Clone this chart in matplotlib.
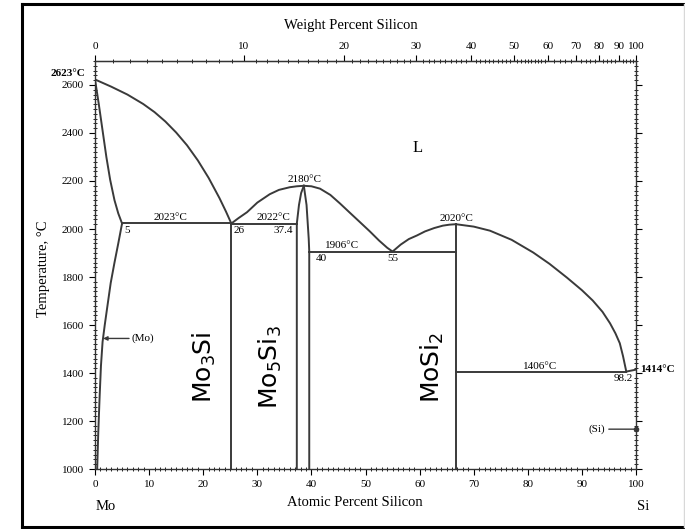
import numpy as np
import matplotlib.pyplot as plt
from matplotlib.lines import Line2D

# atomic weights for the wt% <-> at% top scale
M_MO = 95.95
M_SI = 28.0855

# phase boundaries (atomic % Si, temperature in C)
mo_liq_x = [0, 3, 6, 8.9, 11, 13, 15, 17, 19, 21, 23, 24.2, 25.2]
mo_liq_t = [2623, 2593, 2560, 2521, 2487, 2448, 2402, 2349, 2286, 2213, 2129, 2073, 2023]

mo_sol_x = [0, 0.7, 1.4, 2.1, 2.8, 3.6, 4.3, 5.0]
mo_sol_t = [2623, 2520, 2410, 2300, 2205, 2120, 2065, 2023]

mo_solv_x = [5.0, 4.3, 3.6, 2.9, 2.3, 1.8, 1.4, 1.1, 0.85, 0.6, 0.4]
mo_solv_t = [2023, 1940, 1860, 1775, 1680, 1600, 1530, 1430, 1300, 1150, 1000]

liq2_x = [25.2, 26.5, 28.1, 30.0, 32.3, 34.0, 36.0, 37.3, 38.6]
liq2_t = [2023, 2045, 2070, 2110, 2145, 2163, 2174, 2178, 2180]

liq3_x = [38.6, 40.0, 41.6, 43.5, 45.3, 47.0, 49.0, 50.8, 52.5, 54.0, 55.0]
liq3_t = [2180, 2178, 2168, 2142, 2106, 2070, 2028, 1990, 1952, 1922, 1906]

liq4_x = [55.0, 56.5, 58.0, 59.5, 61.0, 62.7, 64.3, 65.5, 66.7]
liq4_t = [1906, 1935, 1958, 1973, 1990, 2004, 2014, 2018, 2020]

liq5_x = [66.7, 70, 73, 77, 81, 84, 87.2, 90, 92, 93.8, 95.2, 96.2, 97.0, 97.6, 98.2]
liq5_t = [2020, 2010, 1993, 1955, 1902, 1855, 1798, 1745, 1702, 1655, 1607, 1565, 1524, 1470, 1406]

m53_left_x = [37.3, 37.3, 37.7, 38.1, 38.6]
m53_left_t = [1000, 2022, 2100, 2150, 2180]
m53_right_x = [38.6, 39.1, 39.5, 39.6, 39.6]
m53_right_t = [2180, 2100, 1960, 1906, 1000]

si_end_x = [98.2, 100]
si_end_t = [1406, 1414]

# horizontal invariant lines: (x0, x1, T)
invariants = [(5.0, 25.2, 2023), (25.2, 37.3, 2022), (39.6, 66.7, 1906), (66.7, 98.2, 1406)]
# vertical compound lines: (x, Ttop)
compounds = [(25.2, 2023), (66.7, 2020)]

# text labels: (text, x, T, ha, va)
temp_labels = [
    ("2023°C", 13.9, 2030, "center", "bottom"),
    ("5", 5.4, 2012, "left", "top"),
    ("26", 25.6, 2012, "left", "top"),
    ("2022°C", 33.0, 2030, "center", "bottom"),
    ("37.4", 36.6, 2012, "right", "top"),
    ("2180°C", 38.8, 2186, "center", "bottom"),
    ("1906°C", 45.6, 1912, "center", "bottom"),
    ("40", 40.8, 1895, "left", "top"),
    ("55", 55.1, 1895, "center", "top"),
    ("2020°C", 66.9, 2026, "center", "bottom"),
    ("1406°C", 82.2, 1410, "center", "bottom"),
    ("98.2", 99.4, 1396, "right", "top"),
]

phase_labels = [("$\\mathrm{Mo_3Si}$", 20.3, 1425), ("$\\mathrm{Mo_5Si_3}$", 32.4, 1425),
                ("$\\mathrm{MoSi_2}$", 62.3, 1425)]

wt_major = list(range(0, 101, 10))
wt_minor = list(range(0, 60)) + list(range(60, 101, 2))


def at2wt(a):
    a = np.clip(np.asarray(a, dtype=float), 0, 100)
    return 100 * a * M_SI / (a * M_SI + (100 - a) * M_MO)


def wt2at(w):
    w = np.clip(np.asarray(w, dtype=float), 0, 100)
    return 100 * (w / M_SI) / (w / M_SI + (100 - w) / M_MO)


plt.rcParams['font.family'] = ['Liberation Serif', 'DejaVu Serif']
plt.rcParams['mathtext.fontset'] = 'dejavusans'

fig = plt.figure(figsize=(6.85, 5.29), dpi=100)
ax = fig.add_axes([0.1387, 0.1134, 0.7898, 0.7713])
lc = "#3a3a3a"
lw = 1.4

for xs, ts in [(mo_liq_x, mo_liq_t), (mo_sol_x, mo_sol_t), (mo_solv_x, mo_solv_t),
               (liq2_x, liq2_t), (liq3_x, liq3_t), (liq4_x, liq4_t), (liq5_x, liq5_t),
               (m53_left_x, m53_left_t), (m53_right_x, m53_right_t), (si_end_x, si_end_t)]:
    ax.plot(xs, ts, color=lc, lw=lw, solid_joinstyle="round")

for x0, x1, t in invariants:
    ax.plot([x0, x1], [t, t], color=lc, lw=lw)
for x, t in compounds:
    ax.plot([x, x], [1000, t], color=lc, lw=lw)

ax.set_xlim(0, 100)
ax.set_ylim(1000, 2700)

for txt, x, t, ha, va in temp_labels:
    ax.text(x, t, txt, fontsize=8, ha=ha, va=va)

for txt, x, t in phase_labels:
    ax.text(x, t, txt, fontsize=18, rotation=90, ha="center", va="center")

ax.text(59.7, 2338, "L", fontsize=12, ha="center", va="center")
ax.text(-1.8, 2646, "2623°C", fontsize=8, fontweight="bold", ha="right", va="center", clip_on=False)
ax.text(100.8, 1414, "1414°C", fontsize=8, fontweight="bold", ha="left", va="center", clip_on=False)

ax.annotate("(Mo)", xy=(1.5, 1544), xytext=(6.8, 1544), fontsize=8, va="center", ha="left",
            arrowprops=dict(arrowstyle="-|>", color=lc, lw=1, mutation_scale=6, shrinkA=0, shrinkB=0))
ax.annotate("(Si)", xy=(100, 1166), xytext=(94.2, 1166), fontsize=8, va="center", ha="right",
            arrowprops=dict(arrowstyle="-", color=lc, lw=1, shrinkA=1, shrinkB=0))
ax.plot([100], [1166], "o", color=lc, ms=3, clip_on=False)

# ticks
ax.set_xticks(range(0, 101, 10))
ax.set_xticks(range(0, 101, 1), minor=True)
ax.set_yticks(range(1000, 2601, 200))
ax.set_yticks(range(1000, 2701, 20), minor=True)
ax.tick_params(axis="both", which="major", direction="out", length=4, width=0.8, labelsize=8, pad=4)
ax.tick_params(axis="both", which="minor", direction="inout", length=3, width=0.6)
ax.tick_params(axis="y", which="both", right=True)
ax.tick_params(axis="x", which="both", top=False)

sec = ax.secondary_xaxis("top", functions=(at2wt, wt2at))
sec.set_xticks(wt_major)
sec.set_xticks(wt_minor, minor=True)
sec.tick_params(which="major", direction="out", length=4, width=0.8, labelsize=8, pad=3)
sec.tick_params(which="minor", direction="inout", length=3, width=0.6)

for s in ax.spines.values():
    s.set_color("#333333")
    s.set_linewidth(1.0)

fig.text(351 / 685, 1 - 26 / 529, "Weight Percent Silicon", fontsize=10.5, ha="center", va="center")
fig.text(355 / 685, 1 - 503 / 529, "Atomic Percent Silicon", fontsize=10.5, ha="center", va="center")
fig.text(44 / 685, 1 - 269 / 529, "Temperature, °C", fontsize=10.5, rotation=90, ha="center", va="center")
fig.text(106 / 685, 1 - 507 / 529, "Mo", fontsize=10.5, ha="center", va="center")
fig.text(643 / 685, 1 - 507 / 529, "Si", fontsize=10.5, ha="center", va="center")

# outer frame of the picture
fx0, fx1 = 22 / 685, 684 / 685
fy0, fy1 = 1 - 527 / 529, 1 - 4 / 529
fig.add_artist(Line2D([fx0, fx1], [fy1, fy1], color="black", lw=2.2))
fig.add_artist(Line2D([fx0, fx0], [fy0, fy1], color="black", lw=2.2))
fig.add_artist(Line2D([fx0, fx1], [fy0, fy0], color="black", lw=2.2))
fig.add_artist(Line2D([fx1, fx1], [fy0, fy1], color="#d8d8d8", lw=1))

fig.savefig("out.png", dpi=100)
